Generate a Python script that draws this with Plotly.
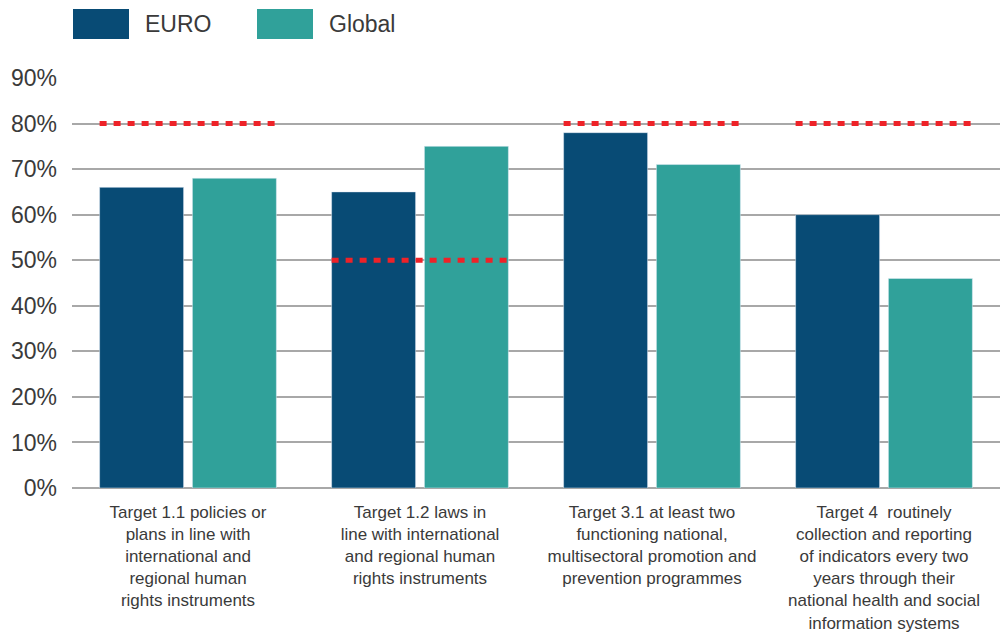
import plotly.graph_objects as go

# Data
categories = [
    "Target 1.1 policies or<br>plans in line with<br>international and<br>regional human<br>rights instruments",
    "Target 1.2 laws in<br>line with international<br>and regional human<br>rights instruments",
    "Target 3.1 at least two<br>functioning national,<br>multisectoral promotion and<br>prevention programmes",
    "Target 4  routinely<br>collection and reporting<br>of indicators every two<br>years through their<br>national health and social<br>information systems",
]
euro = [0.66, 0.65, 0.78, 0.60]
global_vals = [0.68, 0.75, 0.71, 0.46]
targets = [0.80, 0.50, 0.80, 0.80]
y_ticks = [0, 0.1, 0.2, 0.3, 0.4, 0.5, 0.6, 0.7, 0.8, 0.9]
y_ticktext = ["0%", "10%", "20%", "30%", "40%", "50%", "60%", "70%", "80%", "90%"]

EURO_COLOR = "#084b75"
GLOBAL_COLOR = "#30a19a"
TARGET_COLOR = "#ee2228"
TEXT_COLOR = "#3a3a3a"
FONT = "Liberation Sans, Arial, sans-serif"

xs = list(range(len(categories)))
bar_w = 0.362

fig = go.Figure()
fig.add_trace(go.Bar(x=xs, y=euro, name="EURO", marker_color=EURO_COLOR,
                     width=bar_w, offset=-0.381, showlegend=False))
fig.add_trace(go.Bar(x=xs, y=global_vals, name="Global", marker_color=GLOBAL_COLOR,
                     width=bar_w, offset=0.019, showlegend=False))

# Target level per category as a dotted red segment across the group
for i, t in enumerate(targets):
    fig.add_trace(go.Scatter(
        x=[i - 0.381, i + 0.381], y=[t, t], mode="lines",
        line=dict(color=TARGET_COLOR, width=5, dash="7px,7px"),
        showlegend=False, hoverinfo="skip",
    ))

# Legend drawn as swatches with labels (paper coords; plot area spans 928x410 px)
legend_items = [("EURO", EURO_COLOR, 73, 145), ("Global", GLOBAL_COLOR, 257, 329)]
for label, color, x0, tx in legend_items:
    fig.add_shape(type="rect", xref="paper", yref="paper",
                  x0=(x0 - 72) / 928, x1=(x0 + 56 - 72) / 928,
                  y0=(488 - 39) / 410, y1=(488 - 9) / 410,
                  line=dict(width=0), fillcolor=color)
    fig.add_annotation(xref="paper", yref="paper", x=(tx - 72) / 928,
                       y=(488 - 24) / 410, text=label, showarrow=False,
                       xanchor="left", yanchor="middle", xshift=-2,
                       font=dict(family=FONT, size=23, color=TEXT_COLOR))

fig.update_layout(
    width=1002, height=636,
    margin=dict(l=72, r=2, t=78, b=148),
    paper_bgcolor="white", plot_bgcolor="white",
    barmode="overlay",
    font=dict(family=FONT, color=TEXT_COLOR),
    xaxis=dict(range=[-0.5, 3.5], tickvals=xs, ticktext=categories,
               showgrid=False, zeroline=False, showline=False,
               ticks="", tickfont=dict(size=17, color=TEXT_COLOR),
               ticklabelstandoff=12),
    yaxis=dict(range=[0, 0.9], tickvals=y_ticks, ticktext=y_ticktext,
               showgrid=True, gridcolor="#a8a8a8", gridwidth=1.5,
               zeroline=True, zerolinecolor="#a8a8a8", zerolinewidth=1.5,
               showline=False, ticks="", tickfont=dict(size=23, color=TEXT_COLOR),
               ticklabelstandoff=14),
)

fig.write_html("out.html")
